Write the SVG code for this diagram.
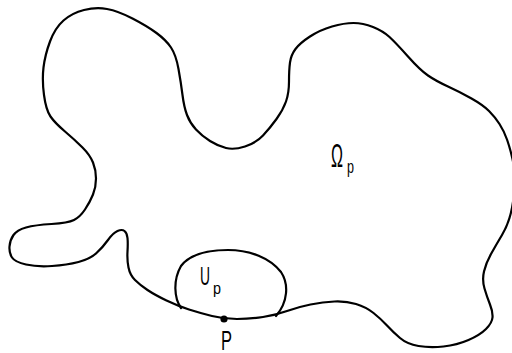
<svg xmlns="http://www.w3.org/2000/svg" width="512" height="353" viewBox="0 0 512 353">
<style>
.curve{fill:none;stroke:#000;stroke-width:2.2;stroke-linejoin:round;stroke-linecap:round}
.lbl{font-family:"Liberation Sans",Arial,sans-serif;fill:#000}
</style>
<rect width="512" height="353" fill="#fff"/>
<g id="omega">
<path class="curve" d="M212,316 Q224,319 237,319 Q250,319 263,317 Q276,315 287,311 Q298,307 310.5,304.5 Q323,302 334.5,301.5 Q346,301 356,304 Q366,307 373.5,313 Q381,319 387,325.5 Q393,332 400,338 Q407,344 418.5,346 Q430,348 443.5,346.5 Q457,345 468.5,340 Q480,335 486,329 Q492,323 492.5,317.5 Q493,312 490,304.5 Q487,297 484.5,288.5 Q482,280 484,271.5 Q486,263 491,254 Q496,245 502,235 Q508,225 511,212.5 Q514,200 514.5,185 Q515,170 512.5,159 Q510,148 507,139.5 Q504,131 499.5,124 Q495,117 489,111 Q483,105 471.5,98.5 Q460,92 448,86.5 Q436,81 428,75.5 Q420,70 408,56.5 Q396,43 389.5,37 Q383,31 373,27 Q363,23 353.5,23 Q344,23 332,26.5 Q320,30 310,36.5 Q300,43 295.5,49 Q291,55 290,62.5 Q289,70 289,81.5 Q289,93 286,101.5 Q283,110 276.5,119 Q270,128 263,135.5 Q256,143 245,146.5 Q234,150 226,148 Q218,146 210,141 Q202,136 196,129.5 Q190,123 187,115 Q184,107 182.5,95 Q181,83 178.5,69 Q176,55 171,47.5 Q166,40 156.5,33 Q147,26 132.5,18.5 Q118,11 107,9 Q96,7 84,10 Q72,13 63.5,20.5 Q55,28 50,41.5 Q45,55 43.5,67.5 Q42,80 44,95 Q46,110 50.5,116.5 Q55,123 65,131.5 Q75,140 82.5,147.5 Q90,155 93,162.5 Q96,170 96,178.5 Q96,187 93,194.5 Q90,202 85,209.5 Q80,217 74,220 Q68,223 51.5,224 Q35,225 26,227.5 Q17,230 13.5,235 Q10,240 9.5,246.5 Q9,253 12,257.5 Q15,262 26,264.5 Q37,267 52,266 Q67,265 78.5,262 Q90,259 96.5,253 Q103,247 108,240 Q113,233 117.5,231 Q122,229 124.5,231 Q127,233 127.5,238 Q128,243 127.5,251.5 Q127,260 128.5,267.5 Q130,275 135,280 Q140,285 147.5,290 Q155,295 166.5,300.5 Q178,306 189,309.5 Q200,313 212,316 Z"/>
<text class="lbl" x="331" y="167" font-size="33" textLength="12" lengthAdjust="spacingAndGlyphs">Ω</text>
<text class="lbl" x="347" y="173" font-size="19" textLength="7" lengthAdjust="spacingAndGlyphs">p</text>
</g>
<g id="U_p">
<path class="curve" d="M181,308 C174,298 173,280 181,266 C190,254 208,250 228,250 C250,250 270,258 281,272 C289,284 288,302 276,316"/>
<text class="lbl" x="200" y="285" font-size="25" textLength="10" lengthAdjust="spacingAndGlyphs">U</text>
<text class="lbl" x="213" y="294" font-size="16.5" textLength="8" lengthAdjust="spacingAndGlyphs">p</text>
</g>
<g id="P">
<circle cx="224" cy="319" r="3.6" fill="#000"/>
<text class="lbl" x="221" y="350" font-size="28" textLength="11" lengthAdjust="spacingAndGlyphs">P</text>
</g>
<g id="connectors"/>
</svg>
